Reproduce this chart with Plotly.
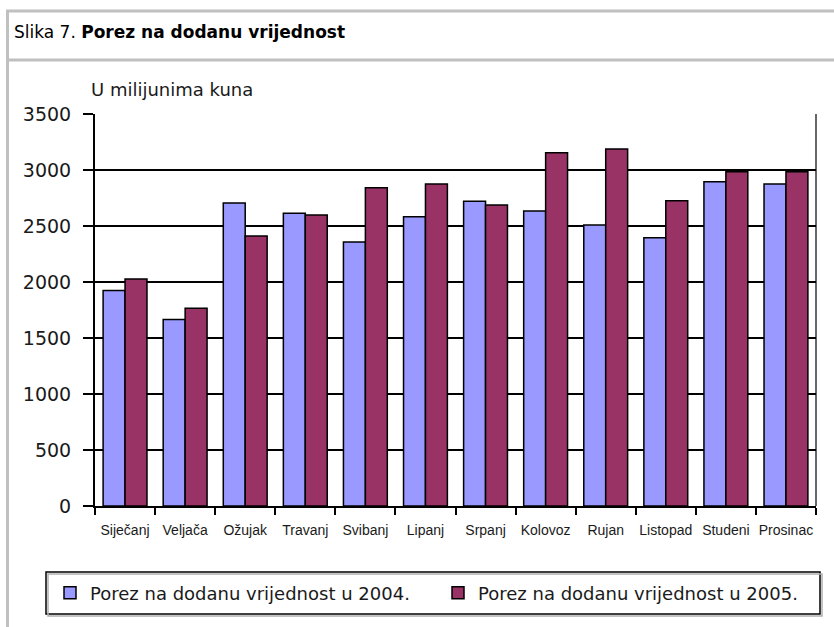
import plotly.graph_objects as go

# ---- data ----
months = ["Siječanj", "Veljača", "Ožujak", "Travanj", "Svibanj", "Lipanj",
          "Srpanj", "Kolovoz", "Rujan", "Listopad", "Studeni", "Prosinac"]
vat_2004 = [1925, 1665, 2705, 2615, 2357, 2583, 2722, 2634, 2510, 2396, 2896, 2876]
vat_2005 = [2027, 1765, 2411, 2598, 2842, 2875, 2688, 3155, 3188, 2726, 2985, 2985]
name_2004 = "Porez na dodanu vrijednost u 2004."
name_2005 = "Porez na dodanu vrijednost u 2005."
y_ticks = [0, 500, 1000, 1500, 2000, 2500, 3000, 3500]

# ---- layout geometry (pixels) ----
W, H = 834, 627
L, R, T, B = 95, 18, 114, 121
PW, PH = W - L - R, H - T - B


def px_x(px):
    return (px - L) / PW


def px_y(py):
    return 1 - (py - T) / PH


BODY_FONT = "DejaVu Sans, Verdana, sans-serif"
TEXT_COLOR = "#1a1a1a"

fig = go.Figure()
fig.add_trace(go.Bar(
    x=months, y=vat_2004, name=name_2004, legend="legend",
    marker=dict(color="#9999FF", line=dict(color="#000000", width=1.5)),
))
fig.add_trace(go.Bar(
    x=months, y=vat_2005, name=name_2005, legend="legend2",
    marker=dict(color="#993366", line=dict(color="#000000", width=1.5)),
))

shapes = []
gray = "#C0C0C0"
# outer frame lines
shapes.append(dict(type="line", xref="paper", yref="paper",
                   x0=px_x(6), x1=px_x(834), y0=px_y(11), y1=px_y(11),
                   line=dict(color=gray, width=3)))
shapes.append(dict(type="line", xref="paper", yref="paper",
                   x0=px_x(6), x1=px_x(834), y0=px_y(60), y1=px_y(60),
                   line=dict(color=gray, width=3)))
shapes.append(dict(type="line", xref="paper", yref="paper",
                   x0=px_x(7.5), x1=px_x(7.5), y0=px_y(10), y1=px_y(627),
                   line=dict(color=gray, width=3)))
# right border of plot area
shapes.append(dict(type="line", xref="paper", yref="paper",
                   x0=1, x1=1, y0=0, y1=1,
                   line=dict(color="#000000", width=1.2)))
# legend box (with a light shadow like the original)
shapes.append(dict(type="rect", xref="paper", yref="paper",
                   x0=px_x(48), x1=px_x(822), y0=px_y(616), y1=px_y(574),
                   line=dict(color="#B0B0B0", width=1.5)))
shapes.append(dict(type="rect", xref="paper", yref="paper",
                   x0=px_x(46), x1=px_x(820), y0=px_y(614), y1=px_y(572),
                   fillcolor="#FFFFFF", layer="below",
                   line=dict(color="#000000", width=1.5)))

annotations = [
    dict(text="Slika 7. <b>Porez na dodanu vrijednost</b>",
         xref="paper", yref="paper", x=px_x(12), y=px_y(32),
         xanchor="left", yanchor="middle", showarrow=False,
         font=dict(family=BODY_FONT, size=17, color="#000000")),
    dict(text="U milijunima kuna",
         xref="paper", yref="paper", x=px_x(89), y=px_y(89),
         xanchor="left", yanchor="middle", showarrow=False,
         font=dict(family=BODY_FONT, size=18, color=TEXT_COLOR)),
]

legend_common = dict(xanchor="left", yanchor="middle",
                     bgcolor="rgba(0,0,0,0)", borderwidth=0,
                     font=dict(family=BODY_FONT, size=18, color=TEXT_COLOR))

fig.update_layout(
    width=W, height=H,
    margin=dict(l=L, r=R, t=T, b=B, pad=0, autoexpand=False),
    paper_bgcolor="#FFFFFF", plot_bgcolor="#FFFFFF",
    barmode="group", bargap=0.27, bargroupgap=0,
    shapes=shapes, annotations=annotations,
    showlegend=True,
    legend=dict(x=px_x(50), y=px_y(593), **legend_common),
    legend2=dict(x=px_x(438), y=px_y(593), **legend_common),
)

fig.update_xaxes(
    type="category", showgrid=False, automargin=False,
    showline=True, linecolor="#000000", linewidth=2,
    ticks="outside", tickson="boundaries", ticklen=7, tickwidth=2, tickcolor="#000000",
    tickangle=0,
    tickfont=dict(family="Liberation Sans, Arial, sans-serif", size=14, color=TEXT_COLOR),
    ticklabelstandoff=10,
)
fig.update_yaxes(
    range=[0, 3500.5], tickvals=y_ticks, tickformat="d", automargin=False,
    showgrid=True, gridcolor="#000000", gridwidth=2,
    showline=True, linecolor="#000000", linewidth=2,
    ticks="outside", ticklen=10, tickwidth=2, tickcolor="#000000",
    tickfont=dict(family=BODY_FONT, size=19, color=TEXT_COLOR),
    ticklabelstandoff=8, zeroline=False,
)

fig.write_html("out.html",
               config={"displayModeBar": False},
               post_script="document.body.style.margin='0';document.body.style.overflow='hidden';")
